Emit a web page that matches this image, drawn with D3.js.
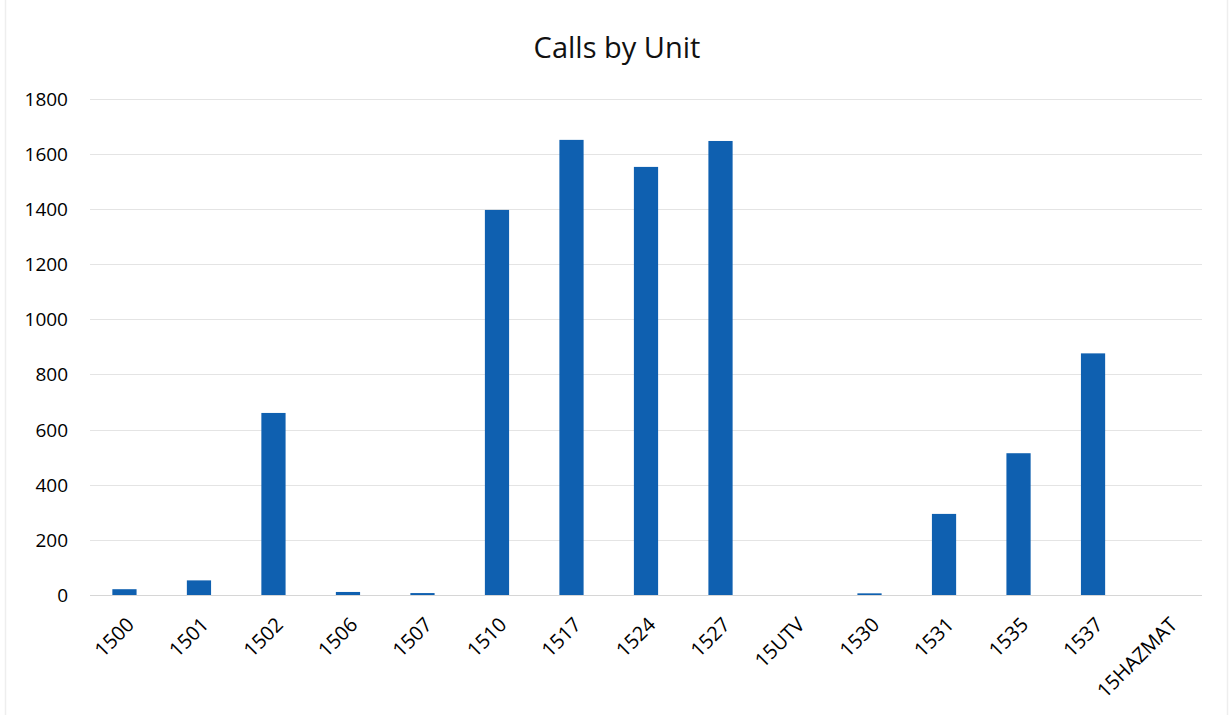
<!DOCTYPE html>
<html>
<head>
<meta charset="utf-8">
<script src="https://cdn.jsdelivr.net/npm/d3@7"></script>
<style>
  html, body { margin: 0; padding: 0; background: #fff; }
  svg { display: block; }
</style>
</head>
<body>
<svg id="chart" width="1232" height="715"></svg>
<script>
const categories = ["1500","1501","1502","1506","1507","1510","1517","1524","1527","15UTV","1530","1531","1535","1537","15HAZMAT"];
const calls = [21, 53, 660, 11, 7, 1396, 1650, 1552, 1646, 0, 6, 294, 514, 876, 0];
const yTicks = [0, 200, 400, 600, 800, 1000, 1200, 1400, 1600, 1800];
const title = "Calls by Unit";

const W = 1232, H = 715;
const svg = d3.select("#chart");
const font = "'Open Sans', 'Noto Sans', sans-serif";

// faint page border
svg.append("line").attr("x1", 5.5).attr("x2", 5.5).attr("y1", 0).attr("y2", H)
  .attr("stroke", "#eeeeee").attr("stroke-width", 1.5);
svg.append("line").attr("x1", 1227.5).attr("x2", 1227.5).attr("y1", 0).attr("y2", H)
  .attr("stroke", "#eeeeee").attr("stroke-width", 1.5);

const x = d3.scaleBand().domain(categories).range([90, 1202]).paddingInner(0.675).paddingOuter(0.3);
const y = d3.scaleLinear().domain([0, 1800]).range([595, 98.5]);

// gridlines
svg.append("g").selectAll("line").data(yTicks).join("line")
  .attr("x1", 90).attr("x2", 1202)
  .attr("y1", d => Math.round(y(d)) + 0.5).attr("y2", d => Math.round(y(d)) + 0.5)
  .attr("stroke", d => d === 0 ? "#d6d6d6" : "#e4e4e4").attr("stroke-width", 1);

// y axis labels
const yAxis = d3.axisLeft(y).tickValues(yTicks).tickFormat(d3.format("d")).tickSize(0).tickPadding(0);
const gy = svg.append("g").attr("transform", "translate(68,0)").call(yAxis);
gy.select(".domain").remove();
gy.selectAll("text").attr("font-family", font).attr("font-size", 19).attr("fill", "#000")
  .attr("dy", "0.35em");

// bars
svg.append("g").selectAll("rect").data(categories).join("rect")
  .attr("x", d => x(d))
  .attr("width", x.bandwidth())
  .attr("y", (d, i) => y(calls[i]))
  .attr("height", (d, i) => y(0) - y(calls[i]))
  .attr("fill", "#0f60b0");

// x axis labels
const xAxis = d3.axisBottom(x).tickSize(0).tickPadding(0);
const gx = svg.append("g").attr("transform", "translate(0,621)").call(xAxis);
gx.select(".domain").remove();
gx.selectAll("text")
  .attr("font-family", font).attr("font-size", 20).attr("fill", "#000")
  .attr("text-anchor", "end")
  .attr("dy", "0.35em")
  .attr("transform", "translate(6,0) rotate(-45)");

// title
svg.append("text").attr("x", 617).attr("y", 58).attr("text-anchor", "middle")
  .attr("font-family", font).attr("font-size", 29).attr("fill", "#111")
  .text(title);
</script>
</body>
</html>
